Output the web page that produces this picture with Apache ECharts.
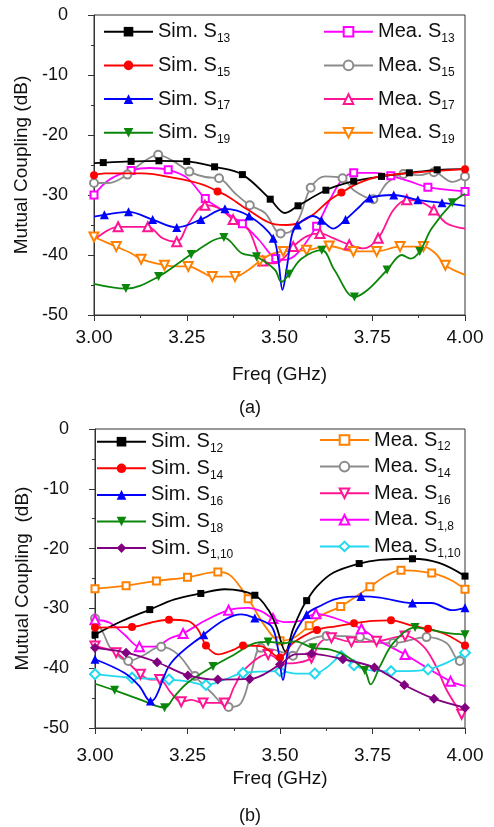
<!DOCTYPE html>
<html>
<head>
<meta charset="utf-8">
<script src="https://cdn.jsdelivr.net/npm/echarts@6/dist/echarts.min.js"></script>
<style>
  html, body { margin: 0; padding: 0; background: #ffffff; }
  #chart { width: 494px; height: 827px; }
</style>
</head>
<body>
<div id="chart"></div>
<script>
// Frequency axis ticks (GHz) and coupling axis ticks (dB)
const freqTicks = [3.00, 3.25, 3.50, 3.75, 4.00];
const dbTicks = [0, -10, -20, -30, -40, -50];

// ---------- Panel (a) ----------
// "marked" samples carry a symbol, "curve" samples only shape the line.
const simS13Marked = [[3.025,-24.6],[3.10,-24.4],[3.175,-24.3],[3.25,-24.4],[3.325,-25.3],[3.40,-26.6],[3.475,-30.7],[3.55,-31.8],[3.625,-29.2],[3.70,-27.7],[3.775,-26.9],[3.85,-26.3],[3.925,-25.8]];
const simS13Curve = [[3.00,-24.7],[3.515,-33.0],[4.00,-25.7]];

const simS15Marked = [[3.00,-26.7],[3.333,-29.4],[3.667,-29.6],[4.00,-25.7]];
const simS15Curve = [[3.03,-26.4],[3.13,-26.4],[3.22,-27.2],[3.295,-28.3],[3.36,-30.2],[3.416,-32.5],[3.488,-34.9],[3.52,-35.0],[3.55,-34.7],[3.59,-33.3],[3.636,-30.8],[3.71,-28.1],[3.77,-26.9],[3.86,-26.3]];

const simS17Marked = [[3.028,-33.3],[3.093,-32.8],[3.158,-34.1],[3.223,-35.4],[3.288,-34.1],[3.353,-32.3],[3.418,-33.5],[3.483,-37.2],[3.548,-35.0],[3.613,-34.2],[3.678,-34.1],[3.743,-30.5],[3.808,-30.0],[3.873,-30.8],[3.938,-31.3]];
const simS17Curve = [[3.00,-33.6],[3.497,-41.0],[3.508,-45.8],[3.52,-42.0],[3.534,-36.5],[3.59,-33.5],[3.645,-35.6],[3.715,-32.0],[4.00,-31.8]];

const simS19Marked = [[3.086,-45.6],[3.174,-43.6],[3.262,-39.9],[3.35,-37.1],[3.438,-40.3],[3.526,-43.2],[3.614,-39.2],[3.702,-47.0],[3.79,-42.5],[3.878,-39.4],[3.966,-31.3]];
const simS19Curve = [[3.00,-44.8],[3.398,-39.7],[3.488,-42.5],[3.505,-44.5],[3.56,-40.6],[3.648,-42.5],[3.738,-45.8],[3.83,-40.0],[3.853,-40.6],[3.91,-35.6],[4.00,-29.8]];

const meaS13Marked = [[3.00,-30.0],[3.10,-25.9],[3.20,-25.8],[3.30,-30.6],[3.40,-34.8],[3.49,-40.6],[3.60,-35.2],[3.70,-26.3],[3.80,-26.8],[3.90,-28.7],[4.00,-29.4]];
const meaS13Curve = [[3.04,-27.5],[3.15,-25.5],[3.25,-27.1],[3.345,-32.5],[3.445,-37.5],[3.515,-40.8],[3.55,-39.6],[3.636,-30.8],[3.668,-27.5],[3.76,-26.3],[3.845,-27.6]];

const meaS15Marked = [[3.00,-28.0],[3.09,-26.6],[3.173,-23.3],[3.257,-26.1],[3.337,-27.2],[3.42,-31.7],[3.503,-36.4],[3.584,-28.8],[3.67,-27.2],[3.753,-30.7],[3.834,-26.5],[3.916,-26.2],[4.00,-26.9]];
const meaS15Curve = [[3.04,-28.0],[3.128,-24.7],[3.215,-24.4],[3.30,-27.0],[3.38,-29.7],[3.461,-33.0],[3.53,-36.1],[3.555,-33.6],[3.623,-26.9],[3.70,-29.2],[3.79,-28.0],[3.879,-26.7],[3.965,-27.8]];

const meaS17Marked = [[3.065,-35.3],[3.145,-35.3],[3.223,-37.8],[3.299,-31.7],[3.375,-34.1],[3.455,-41.0],[3.537,-38.6],[3.609,-36.4],[3.688,-38.3],[3.766,-37.2],[3.843,-30.8],[3.916,-32.5]];
const meaS17Curve = [[3.00,-37.5],[3.185,-37.2],[3.255,-34.7],[3.336,-32.2],[3.416,-35.8],[3.488,-41.4],[3.515,-40.3],[3.573,-36.9],[3.645,-37.2],[3.726,-38.9],[3.807,-32.5],[3.879,-31.1],[3.95,-34.7],[4.00,-35.6]];

const meaS19Marked = [[3.00,-37.0],[3.06,-38.6],[3.127,-40.7],[3.19,-41.7],[3.254,-41.9],[3.319,-43.6],[3.38,-43.6],[3.447,-41.0],[3.51,-39.4],[3.573,-39.2],[3.634,-38.5],[3.699,-39.4],[3.762,-39.4],[3.825,-38.6],[3.888,-38.6],[3.947,-41.7]];
const meaS19Curve = [[3.10,-39.7],[3.222,-41.9],[3.29,-42.8],[3.416,-42.5],[3.48,-39.8],[3.61,-38.7],[3.92,-39.7],[4.00,-43.3]];

// ---------- Panel (b) ----------
const simS12Marked = [[3.00,-34.4],[3.148,-30.2],[3.286,-27.5],[3.432,-27.8],[3.572,-28.7],[3.714,-22.5],[3.858,-21.7],[4.00,-24.6]];
const simS12Curve = [[3.07,-32.2],[3.215,-28.5],[3.35,-26.8],[3.468,-30.2],[3.49,-33.0],[3.515,-37.2],[3.535,-33.5],[3.558,-30.2],[3.60,-26.3],[3.645,-24.0],[3.77,-21.9],[3.93,-22.4]];

const simS14Marked = [[3.00,-33.2],[3.10,-33.1],[3.20,-31.9],[3.30,-36.2],[3.40,-36.2],[3.50,-38.2],[3.60,-33.6],[3.70,-32.5],[3.80,-32.0],[3.90,-33.4],[4.00,-36.2]];
const simS14Curve = [[3.15,-32.4],[3.25,-32.1],[3.278,-33.5],[3.332,-37.7],[3.375,-36.9],[3.448,-36.3],[3.535,-35.8],[3.651,-33.0],[3.75,-32.1],[3.858,-32.9],[3.95,-34.4]];

const simS16Marked = [[3.00,-38.5],[3.15,-45.5],[3.294,-34.4],[3.432,-31.6],[3.572,-31.0],[3.719,-28.0],[3.858,-29.1],[4.00,-29.9]];
const simS16Curve = [[3.08,-40.8],[3.12,-43.0],[3.165,-44.7],[3.206,-39.1],[3.35,-31.9],[3.395,-31.0],[3.477,-33.0],[3.495,-36.9],[3.508,-42.0],[3.525,-36.3],[3.608,-29.6],[3.653,-28.4],[3.77,-28.2],[3.91,-29.1],[3.965,-30.3]];

const simS18Marked = [[3.053,-43.7],[3.188,-46.6],[3.319,-39.7],[3.468,-35.6],[3.589,-36.6],[3.729,-40.4],[3.865,-33.2],[4.00,-34.4]];
const simS18Curve = [[3.00,-42.6],[3.12,-45.2],[3.215,-44.7],[3.251,-42.4],[3.377,-37.7],[3.432,-35.8],[3.513,-35.8],[3.54,-35.5],[3.636,-36.9],[3.68,-38.0],[3.745,-42.7],[3.77,-39.7],[3.806,-35.8],[3.90,-33.5],[3.95,-34.1]];

const simS110Marked = [[3.00,-36.6],[3.084,-37.4],[3.168,-39.0],[3.251,-41.2],[3.332,-41.9],[3.418,-41.8],[3.50,-39.4],[3.585,-37.6],[3.67,-38.5],[3.755,-39.9],[3.836,-42.8],[3.916,-45.1],[4.00,-46.6]];
const simS110Curve = [[3.54,-37.7]];

const meaS12Marked = [[3.00,-26.7],[3.084,-26.2],[3.166,-25.4],[3.25,-24.8],[3.332,-23.9],[3.414,-28.4],[3.50,-35.4],[3.579,-32.9],[3.664,-29.7],[3.743,-26.4],[3.827,-23.6],[3.91,-24.1],[4.00,-26.8]];
const meaS12Curve = [[3.368,-24.6],[3.46,-33.0],[3.535,-35.0],[3.617,-31.0],[3.788,-24.5],[3.96,-25.2]];

const meaS14Marked = [[3.00,-31.7],[3.09,-38.8],[3.179,-36.4],[3.27,-41.3],[3.361,-46.5],[3.448,-36.6],[3.535,-37.9],[3.626,-34.6],[3.716,-34.8],[3.806,-35.8],[3.896,-34.8],[3.986,-38.8]];
const meaS14Curve = [[3.022,-34.1],[3.045,-36.9],[3.126,-38.0],[3.224,-37.7],[3.315,-44.1],[3.395,-45.8],[3.422,-40.8],[3.482,-36.9],[3.51,-37.4],[3.562,-35.8],[3.77,-35.8],[3.95,-35.8],[4.00,-38.5]];

const meaS16Marked = [[3.00,-36.3],[3.057,-37.4],[3.123,-41.0],[3.175,-41.9],[3.233,-45.6],[3.292,-45.8],[3.35,-45.8],[3.468,-37.7],[3.585,-38.3],[3.639,-34.9],[3.693,-35.6],[3.761,-35.5],[3.838,-34.6],[3.991,-47.7]];
const meaS16Curve = [[3.15,-41.9],[3.205,-44.1],[3.26,-45.3],[3.377,-43.0],[3.404,-40.2],[3.515,-39.2],[3.545,-39.1],[3.607,-35.8],[3.887,-36.3],[3.922,-39.7],[3.95,-43.6]];

const meaS18Marked = [[3.00,-31.9],[3.12,-36.4],[3.238,-34.2],[3.361,-30.3],[3.481,-31.7],[3.597,-30.9],[3.72,-33.4],[3.838,-37.7],[3.961,-42.2]];
const meaS18Curve = [[3.04,-32.4],[3.08,-34.4],[3.16,-36.4],[3.206,-34.9],[3.296,-32.1],[3.414,-29.9],[3.45,-30.5],[3.513,-32.3],[3.554,-32.1],[3.662,-31.9],[3.77,-35.5],[3.896,-39.9],[4.00,-43.0]];

const meaS110Marked = [[3.00,-41.0],[3.10,-41.6],[3.20,-41.9],[3.30,-42.8],[3.40,-40.8],[3.50,-40.5],[3.594,-40.9],[3.666,-38.0],[3.70,-39.5],[3.80,-40.5],[3.90,-40.2],[4.00,-37.4]];
const meaS110Curve = [[3.25,-42.2],[3.35,-41.9],[3.545,-40.9],[3.63,-39.7],[3.75,-40.4],[3.85,-40.5],[3.95,-39.1]];

// ---------- drawing ----------
const FONT = '"Liberation Sans", Arial, Helvetica, sans-serif';
const TXT = '#111111';
const AX = '#333333';

// merge marked and curve samples into one ordered line; only marked ones get a symbol
function lineData(marked, curve) {
  const rows = marked.map(p => ({ value: [p[0], p[1]] }))
    .concat(curve.map(p => ({ value: [p[0], p[1]], symbol: 'none' })));
  rows.sort((a, b) => a.value[0] - b.value[0]);
  return rows;
}

const SIZE = { rect: 7, circle: 8, triangle: 9, diamond: 10 };

function makeSeries(name, panel, color, shape, hollow, down, marked, curve) {
  return {
    name: name,
    type: 'line',
    xAxisIndex: panel,
    yAxisIndex: panel,
    smooth: 0.35,
    showAllSymbol: true,
    symbol: (hollow ? 'empty' + shape.charAt(0).toUpperCase() + shape.slice(1) : shape),
    symbolSize: SIZE[shape],
    symbolRotate: down ? 180 : 0,
    lineStyle: { color: color, width: 1.8 },
    itemStyle: hollow ? { color: color, borderColor: color, borderWidth: 1.3 } : { color: color, borderWidth: 0 },
    emphasis: { disabled: true },
    z: hollow ? 3 : 4,
    data: lineData(marked, curve)
  };
}

const series = [
  makeSeries('Sim. S13', 0, '#000000', 'rect', false, false, simS13Marked, simS13Curve),
  makeSeries('Sim. S15', 0, '#ff0000', 'circle', false, false, simS15Marked, simS15Curve),
  makeSeries('Sim. S17', 0, '#0000ff', 'triangle', false, false, simS17Marked, simS17Curve),
  makeSeries('Sim. S19', 0, '#0a870a', 'triangle', false, true, simS19Marked, simS19Curve),
  makeSeries('Mea. S13', 0, '#ff00ff', 'rect', true, false, meaS13Marked, meaS13Curve),
  makeSeries('Mea. S15', 0, '#8c8c8c', 'circle', true, false, meaS15Marked, meaS15Curve),
  makeSeries('Mea. S17', 0, '#ff1493', 'triangle', true, false, meaS17Marked, meaS17Curve),
  makeSeries('Mea. S19', 0, '#ff8000', 'triangle', true, true, meaS19Marked, meaS19Curve),

  makeSeries('Sim. S12', 1, '#000000', 'rect', false, false, simS12Marked, simS12Curve),
  makeSeries('Sim. S14', 1, '#ff0000', 'circle', false, false, simS14Marked, simS14Curve),
  makeSeries('Sim. S16', 1, '#0000ff', 'triangle', false, false, simS16Marked, simS16Curve),
  makeSeries('Sim. S18', 1, '#0a870a', 'triangle', false, true, simS18Marked, simS18Curve),
  makeSeries('Sim. S1,10', 1, '#800080', 'diamond', false, false, simS110Marked, simS110Curve),
  makeSeries('Mea. S12', 1, '#ff8000', 'rect', true, false, meaS12Marked, meaS12Curve),
  makeSeries('Mea. S14', 1, '#8c8c8c', 'circle', true, false, meaS14Marked, meaS14Curve),
  makeSeries('Mea. S16', 1, '#ff1493', 'triangle', true, true, meaS16Marked, meaS16Curve),
  makeSeries('Mea. S1,8', 1, '#ff00ff', 'triangle', true, false, meaS18Marked, meaS18Curve),
  makeSeries('Mea. S1,10', 1, '#22d8ee', 'diamond', true, false, meaS110Marked, meaS110Curve)
];

// legend text: port indices after "S" are set as a subscript
function subName(name) {
  return name.replace(/^(.*S)([\d,]+)$/, '$1{sub|$2}');
}

function legendColumn(names, left, top, gap) {
  return {
    data: names,
    orient: 'vertical',
    left: left,
    top: top,
    padding: 0,
    itemGap: gap,
    itemWidth: 49,
    itemHeight: 12,
    selectedMode: false,
    formatter: subName,
    textStyle: {
      fontFamily: FONT, fontSize: 20, color: TXT, lineHeight: 26,
      rich: { sub: { fontFamily: FONT, fontSize: 12, lineHeight: 14, verticalAlign: 'bottom', color: TXT } }
    }
  };
}

function xAxis(panel, labelMargin, nameGap) {
  return {
    type: 'value', gridIndex: panel, min: 3, max: 4, interval: 0.25,
    name: 'Freq (GHz)', nameLocation: 'middle', nameGap: nameGap,
    nameTextStyle: { fontFamily: FONT, fontSize: 19, color: TXT },
    axisLine: { show: true, onZero: false, lineStyle: { color: AX, width: 1 } },
    axisTick: { show: true, length: 6, lineStyle: { color: AX } },
    minorTick: { show: true, splitNumber: 2, length: 3, lineStyle: { color: AX } },
    splitLine: { show: false },
    axisLabel: {
      margin: labelMargin, fontFamily: FONT, fontSize: 19, color: TXT,
      customValues: freqTicks,
      formatter: v => v.toFixed(2)
    }
  };
}

function yAxis(panel, name) {
  return {
    type: 'value', gridIndex: panel, min: -50, max: 0, interval: 10,
    name: name, nameLocation: 'middle', nameGap: 58,
    nameTextStyle: { fontFamily: FONT, fontSize: 19, color: TXT },
    axisLine: { show: true, onZero: false, lineStyle: { color: AX, width: 1 } },
    axisTick: { show: true, length: 6, lineStyle: { color: AX } },
    minorTick: { show: true, splitNumber: 2, length: 3, lineStyle: { color: AX } },
    splitLine: { show: false },
    axisLabel: {
      margin: 26, fontFamily: FONT, fontSize: 18, color: TXT,
      customValues: dbTicks,
      formatter: v => String(v)
    }
  };
}

const chart = echarts.init(document.getElementById('chart'), null, { renderer: 'canvas' });
chart.setOption({
  backgroundColor: '#ffffff',
  animation: false,
  grid: [
    { left: 94, top: 15, width: 371, height: 300, show: true, borderColor: AX, borderWidth: 1, backgroundColor: 'transparent' },
    { left: 95, top: 429, width: 370, height: 299, show: true, borderColor: AX, borderWidth: 1, backgroundColor: 'transparent' }
  ],
  xAxis: [xAxis(0, 13, 50), xAxis(1, 18, 41)],
  yAxis: [yAxis(0, 'Mutual Coupling (dB)'), yAxis(1, 'Mutual Coupling  (dB)')],
  legend: [
    legendColumn(['Sim. S13', 'Sim. S15', 'Sim. S17', 'Sim. S19'], 103, 18.7, 7.7),
    legendColumn(['Mea. S13', 'Mea. S15', 'Mea. S17', 'Mea. S19'], 323, 18.7, 7.7),
    legendColumn(['Sim. S12', 'Sim. S14', 'Sim. S16', 'Sim. S18', 'Sim. S1,10'], 96, 428.7, 0.6),
    legendColumn(['Mea. S12', 'Mea. S14', 'Mea. S16', 'Mea. S1,8', 'Mea. S1,10'], 319, 427, 0.6)
  ],
  graphic: [
    { type: 'text', x: 250, y: 408, style: { text: '(a)', font: '18px ' + FONT, fill: TXT, textAlign: 'center', textVerticalAlign: 'middle' } },
    { type: 'text', x: 250, y: 816, style: { text: '(b)', font: '18px ' + FONT, fill: TXT, textAlign: 'center', textVerticalAlign: 'middle' } }
  ],
  series: series
});
</script>
</body>
</html>
